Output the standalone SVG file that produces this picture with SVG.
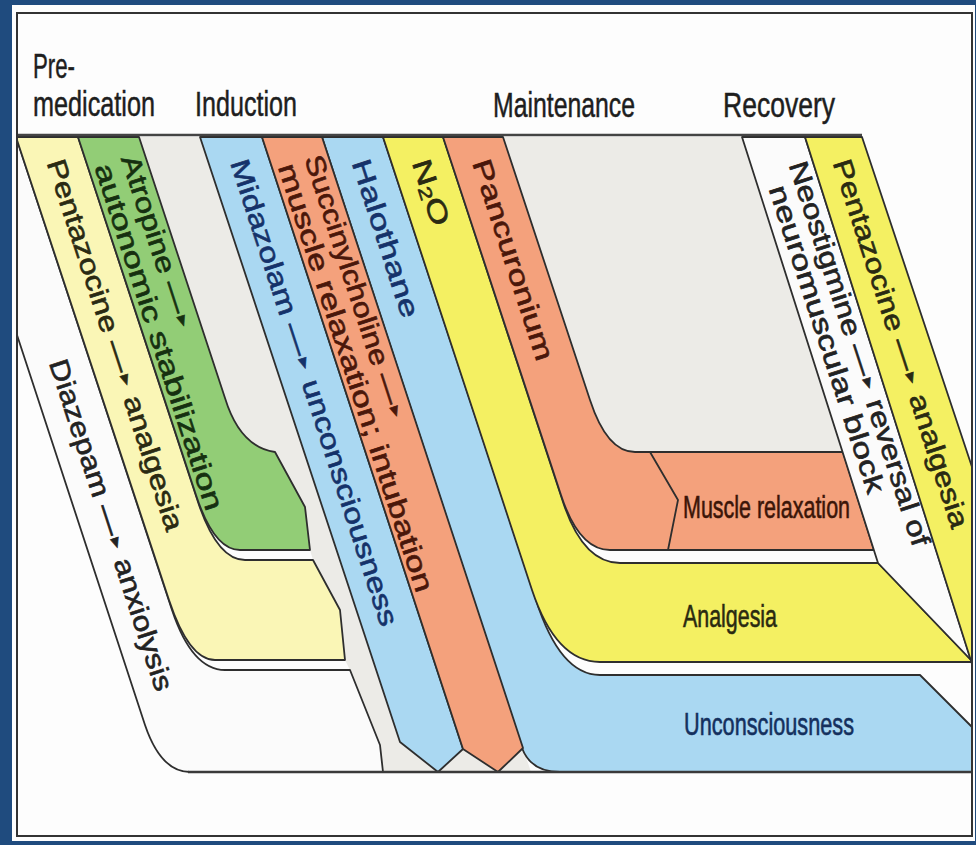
<svg xmlns="http://www.w3.org/2000/svg" width="976" height="845" viewBox="0 0 976 845">
<style>
.edge{stroke:#2e2e2e;stroke-width:1.8;stroke-linejoin:round}
.blue{fill:#aad8f2}
.orange{fill:#f4a17c}
.yellow{fill:#f4f062}
.pale{fill:#faf6b6}
.green{fill:#92cd76}
.white{fill:#fbfbfb}
.gray{fill:#ecebe7}
.hdr{font-family:"Liberation Sans",Arial,sans-serif;font-size:35px;fill:#1e1e1e;stroke:#1e1e1e;stroke-width:0.5}
.lbl{font-family:"Liberation Sans",Arial,sans-serif;font-size:27px;dominant-baseline:central;stroke-width:0.6}
.hz{font-family:"Liberation Sans",Arial,sans-serif;font-size:32px;stroke-width:0.6}
.ar{font-size:14px}
.tb{fill:#15326a;stroke:#15326a}.to{fill:#4a170a;stroke:#4a170a}.ty{fill:#2a2a12;stroke:#2a2a12}.tg{fill:#163010;stroke:#163010}.tk{fill:#222222;stroke:#222222}
</style>
<rect x="0" y="0" width="976" height="845" fill="#1f4b7e"/>
<rect x="12" y="5" width="963" height="836" fill="#fdfdfd"/>

<g id="background-areas">
<path class="gray" d="M139,137 L335,137 L523,748 L531,772 L383,772 L380,745 L350,670 L345,660 L340,610 L313,560 L310,550 L305,507 L275,452 Q240,447 225,398 Z"/>
<path class="gray" d="M495,137 L742,137 L850,460 L600,460 Z"/>
</g>

<g id="halothane-unconsciousness">
<path class="blue edge" d="M322,137 L522,748 Q531,772 560,772 L972,772 L972,727 L920,675 L600,675 Q560,675 536,600 L383,137 Z"/>
</g>
<g id="n2o-analgesia">
<path class="yellow edge" d="M383,137 L532,590 Q556,662 600,662 L971,662 L971,660 L878,563 L620,563 Q584,563 564,505 L443,137 Z"/>
</g>
<g id="pancuronium-muscle-relaxation">
<path class="orange edge" d="M443,137 L561,495 Q579,550 610,550 L874,550 L843,452 L635,452 Q607,452 590,400 L503,137 Z"/>
<path class="edge" fill="none" d="M650,452 L678,500 L668,550"/>
</g>
<g id="midazolam">
<path class="blue edge" d="M200,137 L262,137 L463,749 L438,772 L400,742 Z"/>
</g>
<g id="succinylcholine">
<path class="orange edge" d="M262,137 L322,137 L523,748 L498,772 L463,749 Z"/>
</g>
<g id="diazepam">
<path class="white edge" d="M17,140 L172,610 Q192,670 225,670 L350,670 L380,745 L383,772 L190,772 Q161,772 145,725 L17,335 Z"/>
</g>
<g id="pentazocine-pre">
<path class="pale edge" d="M17,137 L78,137 L199,505 Q218,560 245,560 L313,560 L340,610 L345,660 L215,660 Q189,660 169,600 L17,140 Z"/>
</g>
<g id="atropine">
<path class="green edge" d="M78,137 L139,137 L225,398 Q240,447 275,452 L305,507 L310,550 L240,550 Q214,550 196,495 Z"/>
</g>
<g id="neostigmine">
<path class="white edge" d="M742,137 L805,137 L971,660 L878,563 Z"/>
</g>
<g id="pentazocine-recovery">
<path class="yellow edge" d="M805,137 L862,137 L972,467 L972,664 Z"/>
</g>

<g id="frame">
<path d="M17,135 H862" stroke="#444" stroke-width="2.6" fill="none"/>
<path d="M188,772 H972" stroke="#3a3a3a" stroke-width="2.4" fill="none"/>
<rect x="17" y="13" width="955" height="823" fill="none" stroke="#333" stroke-width="2"/>
</g>

<g id="headers">
<text class="hdr" x="33" y="78" textLength="42" lengthAdjust="spacingAndGlyphs">Pre-</text>
<text class="hdr" x="33" y="116" textLength="122" lengthAdjust="spacingAndGlyphs">medication</text>
<text class="hdr" x="195" y="116" textLength="102" lengthAdjust="spacingAndGlyphs">Induction</text>
<text class="hdr" x="493" y="117" textLength="142" lengthAdjust="spacingAndGlyphs">Maintenance</text>
<text class="hdr" x="723" y="117" textLength="112" lengthAdjust="spacingAndGlyphs">Recovery</text>
</g>

<g id="labels">
<text class="hz" x="683" y="518" fill="#3b1508" stroke="#3b1508" textLength="167" lengthAdjust="spacingAndGlyphs">Muscle relaxation</text>
<text class="hz" x="683" y="627" fill="#2a2a10" stroke="#2a2a10" textLength="94" lengthAdjust="spacingAndGlyphs">Analgesia</text>
<text class="hz" x="684" y="735" fill="#14305e" stroke="#14305e" textLength="170" lengthAdjust="spacingAndGlyphs">Unconsciousness</text>

<text class="lbl ty" transform="translate(55,160) rotate(72)" textLength="389" lengthAdjust="spacingAndGlyphs">Pentazocine —<tspan class="ar">►</tspan> analgesia</text>
<text class="lbl tg" transform="translate(129.4,155.7) rotate(72)" textLength="182" lengthAdjust="spacingAndGlyphs">Atropine —<tspan class="ar">►</tspan></text>
<text class="lbl tg" transform="translate(102.8,164.3) rotate(72)" textLength="363" lengthAdjust="spacingAndGlyphs">autonomic stabilization</text>
<text class="lbl tb" transform="translate(238.6,160) rotate(72)" textLength="489" lengthAdjust="spacingAndGlyphs">Midazolam —<tspan class="ar">►</tspan> unconsciousness</text>
<text class="lbl to" transform="translate(312.9,155.7) rotate(72)" textLength="277" lengthAdjust="spacingAndGlyphs">Succinylcholine —<tspan class="ar">►</tspan></text>
<text class="lbl to" transform="translate(286.3,164.3) rotate(72)" textLength="449" lengthAdjust="spacingAndGlyphs">muscle relaxation; intubation</text>
<text class="lbl tb" transform="translate(360.1,160) rotate(72)" textLength="165" lengthAdjust="spacingAndGlyphs">Halothane</text>
<text class="lbl ty" transform="translate(420.6,160) rotate(72) scale(1.35,1)">N<tspan font-size="18" dy="6">2</tspan><tspan dy="-6">O</tspan></text>
<text class="lbl to" transform="translate(480.6,160) rotate(72)" textLength="210" lengthAdjust="spacingAndGlyphs">Pancuronium</text>
<text class="lbl tk" transform="translate(797,162) rotate(72)" textLength="403" lengthAdjust="spacingAndGlyphs">Neostigmine —<tspan class="ar">►</tspan> reversal of</text>
<text class="lbl tk" transform="translate(777,186) rotate(72)" textLength="322" lengthAdjust="spacingAndGlyphs">neuromuscular block</text>
<text class="lbl ty" transform="translate(841.1,160) rotate(72)" textLength="386" lengthAdjust="spacingAndGlyphs">Pentazocine —<tspan class="ar">►</tspan> analgesia</text>
<text class="lbl tk" transform="translate(57.4,360) rotate(72)" textLength="347" lengthAdjust="spacingAndGlyphs">Diazepam —<tspan class="ar">►</tspan> anxiolysis</text>
</g>
</svg>
